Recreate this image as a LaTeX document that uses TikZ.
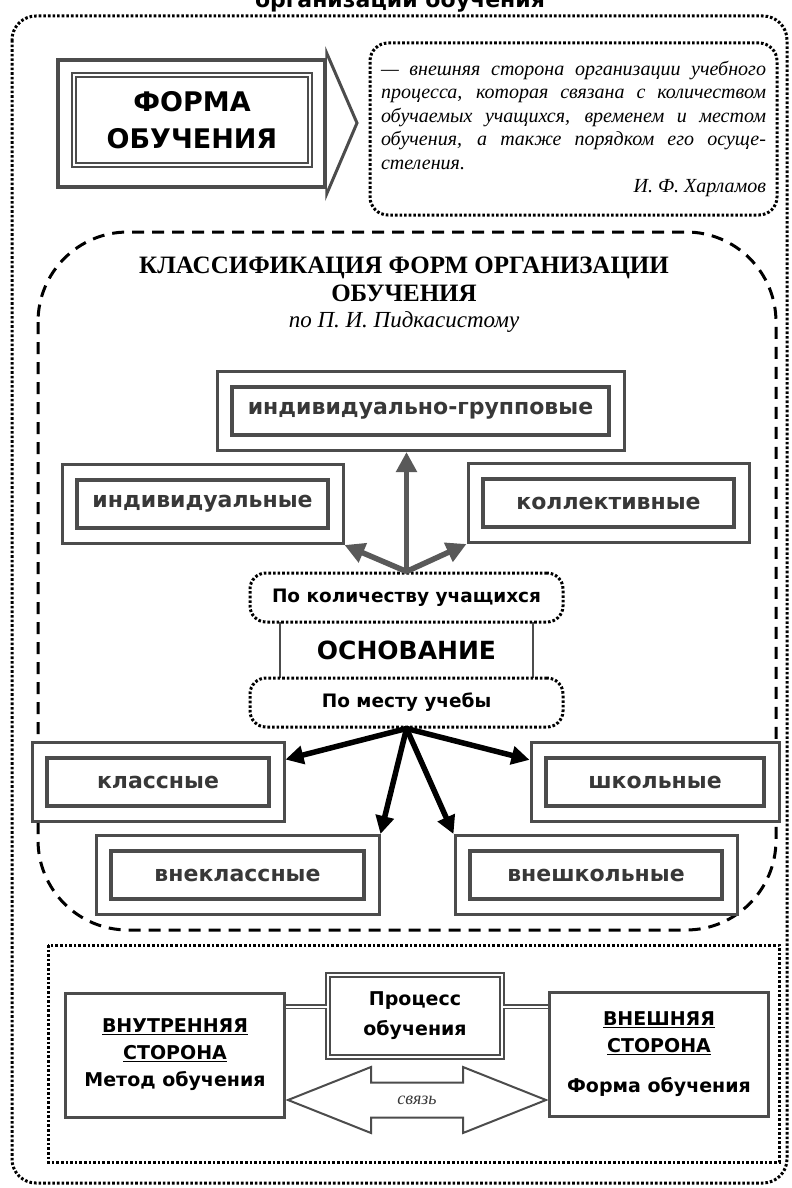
\documentclass[tikz,border=0pt]{standalone}
\usepackage{fontspec}
\setmainfont{Liberation Serif}
\setsansfont{DejaVu Sans}
\usetikzlibrary{arrows.meta,calc}
\definecolor{lncolor}{gray}{0.30}
\definecolor{txcolor}{gray}{0.22}
\definecolor{arcolor}{gray}{0.35}
\def\W{792}
\def\H{1188}

\begin{document}
\begin{tikzpicture}[x=1pt,y=-1pt,
  dotbox/.style={draw=black,line width=3pt,dash pattern=on 2.6pt off 2pt},
  dashbox/.style={draw=black,line width=3pt,dash pattern=on 12pt off 8pt},
  klout/.style={draw=lncolor,line width=3pt,fill=white,minimum height=79,inner sep=0pt},
  klin/.style={draw=lncolor,line width=4pt,fill=white,minimum height=48,inner sep=0pt,
    text=txcolor,font=\sffamily\bfseries\fontsize{22}{26}\selectfont},
  osnfont/.style={font=\sffamily\bfseries\fontsize{18.5}{22}\selectfont},
  sidebox/.style={draw=lncolor,line width=3pt,fill=white,minimum width=219,minimum height=124,
    align=center,font=\sffamily\bfseries\fontsize{19}{27}\selectfont},
  procbox/.style={draw=lncolor,line width=2.2pt,double=white,double distance=1.5pt,fill=white,
    minimum width=174,minimum height=82,align=center,font=\sffamily\bfseries\fontsize{19}{30}\selectfont},
  dblline/.style={draw=lncolor,line width=1.6pt,double=white,double distance=1.6pt},
  gryarrow/.style={draw=arcolor,line width=5.5pt,-{Triangle[length=20pt,width=20pt]}},
  blkarrow/.style={draw=black,line width=5.5pt,-{Triangle[length=18pt,width=18pt]}},
  svline/.style={draw=lncolor,line width=2pt,fill=white}]
\useasboundingbox (0,0) rectangle (\W,\H);
\fill[white] (0,0) rectangle (\W,\H);
% title, only its lower half is on the page
\node[anchor=base,font=\sffamily\bfseries\fontsize{22}{26}\selectfont] (title) at (400,8) {организации обучения};
\draw[dotbox,rounded corners=24pt] (12,16) rectangle (787,1183);

% definition part
\node[draw=lncolor,line width=3.5pt,fill=white,minimum width=267,minimum height=127] (forma) at (191.5,123.5) {};
\coordinate (formatip) at (357,123);
\draw[lncolor,line width=3pt,line join=miter] (forma.north east) -- ++(0,-5) -- (formatip)
  -- ($(forma.south east)+(0,5)$) -- (forma.south east);
\node[draw=lncolor,line width=2.2pt,double=white,double distance=1.3pt,minimum width=236,minimum height=90,
  align=center,font=\sffamily\bfseries\fontsize{27}{37}\selectfont] (formain) at (192,120) {ФОРМА\\ОБУЧЕНИЯ};
\node[dotbox,rounded corners=18pt,minimum width=407,minimum height=172,inner sep=0pt,
  font=\itshape\fontsize{20}{23.5}\selectfont] (quote) at (573.5,129) {\parbox{385pt}{%
  \makebox[385pt][s]{— внешняя сторона организации учебного}\\
  \makebox[385pt][s]{процесса, которая связана с количеством}\\
  \makebox[385pt][s]{обучаемых учащихся, временем и местом}\\
  \makebox[385pt][s]{обучения, а также порядком его осуще-}\\
  стеления.\\
  \mbox{}\hfill И. Ф. Харламов}};

% classification
\draw[dashbox,rounded corners=90pt] (38,232) rectangle (776,930);
\node[align=center,font=\bfseries\fontsize{25}{28}\selectfont] (klhead) at (404,279)
  {КЛАССИФИКАЦИЯ ФОРМ ОРГАНИЗАЦИИ\\ОБУЧЕНИЯ};
\node[font=\itshape\fontsize{23}{26}\selectfont] (klsub) at (404,322) {по П. И. Пидкасистому};
\foreach \nm/\cx/\cy/\w/\txt in {grp/420.5/411/377/индивидуально-групповые,
    ind/202.5/504/251/индивидуальные, kol/608.5/503/251/коллективные,
    klass/158/782/222/классные, shk/655/782/218/школьные,
    vnekl/237.5/875/253/внеклассные, vnesh/596/875/252/внешкольные}{
  \node[klout,minimum width=\w+30] (o\nm) at (\cx,\cy) {};
  \node[klin,minimum width=\w] (\nm) at (\cx,\cy) {\txt};
}
\node[dotbox,rounded corners=16pt,minimum width=313,minimum height=49,osnfont] (kolvo) at (406.5,597.5) {По количеству учащихся};
\node[minimum width=253,minimum height=56,font=\sffamily\bfseries\fontsize{25}{28}\selectfont] (osnova) at (406.5,650) {ОСНОВАНИЕ};
\draw[lncolor,line width=2.5pt] (osnova.north west) -- (osnova.south west)
  (osnova.north east) -- (osnova.south east);
\node[dotbox,rounded corners=16pt,minimum width=313,minimum height=49,osnfont] (mesto) at (406.5,702.5) {По месту учебы};
\draw[gryarrow] (kolvo.north) -- (kolvo.north |- ogrp.south);
\draw[gryarrow] (kolvo.north) -- (oind.south east);
\draw[gryarrow] (kolvo.north) -- (okol.south west);
\foreach \t in {oklass.10, oshk.170, ovnekl.north east, ovnesh.north west}
  \draw[blkarrow] (mesto.south) -- (\t);

% two sides of the process
\draw[dotbox] (48,945) rectangle (779,1162);
\node[sidebox] (vnutr) at (175,1055) {\underline{ВНУТРЕННЯЯ}\\\underline{СТОРОНА}\\Метод обучения};
\node[sidebox] (vnesh2) at (659,1054.5) {\underline{ВНЕШНЯЯ}\\\underline{СТОРОНА}\\[13pt]Форма обучения};
\node[procbox] (proc) at (415,1016) {Процесс\\обучения};
\draw[dblline] (vnutr.east |- proc.174) -- (proc.174);
\draw[dblline] (proc.6) -- (proc.6 -| vnesh2.west);
\coordinate (svl) at ($(vnutr.east)+(2,45)$);
\coordinate (svr) at ($(vnesh2.west)+(-2,45.5)$);
\draw[svline] (svl) -- ++(83,-33) -- ++(0,15.5) -- ($(svr)+(-83,-17.5)$) -- ++(0,-15.5) -- (svr)
  -- ++(-83,33) -- ++(0,-15.5) -- ($(svl)+(83,17.5)$) -- ++(0,15.5) -- cycle;
\node[font=\itshape\fontsize{18}{20}\selectfont,text=txcolor] (svtext) at ($(svl)!0.5!(svr)$) {связь};
\end{tikzpicture}
\end{document}
